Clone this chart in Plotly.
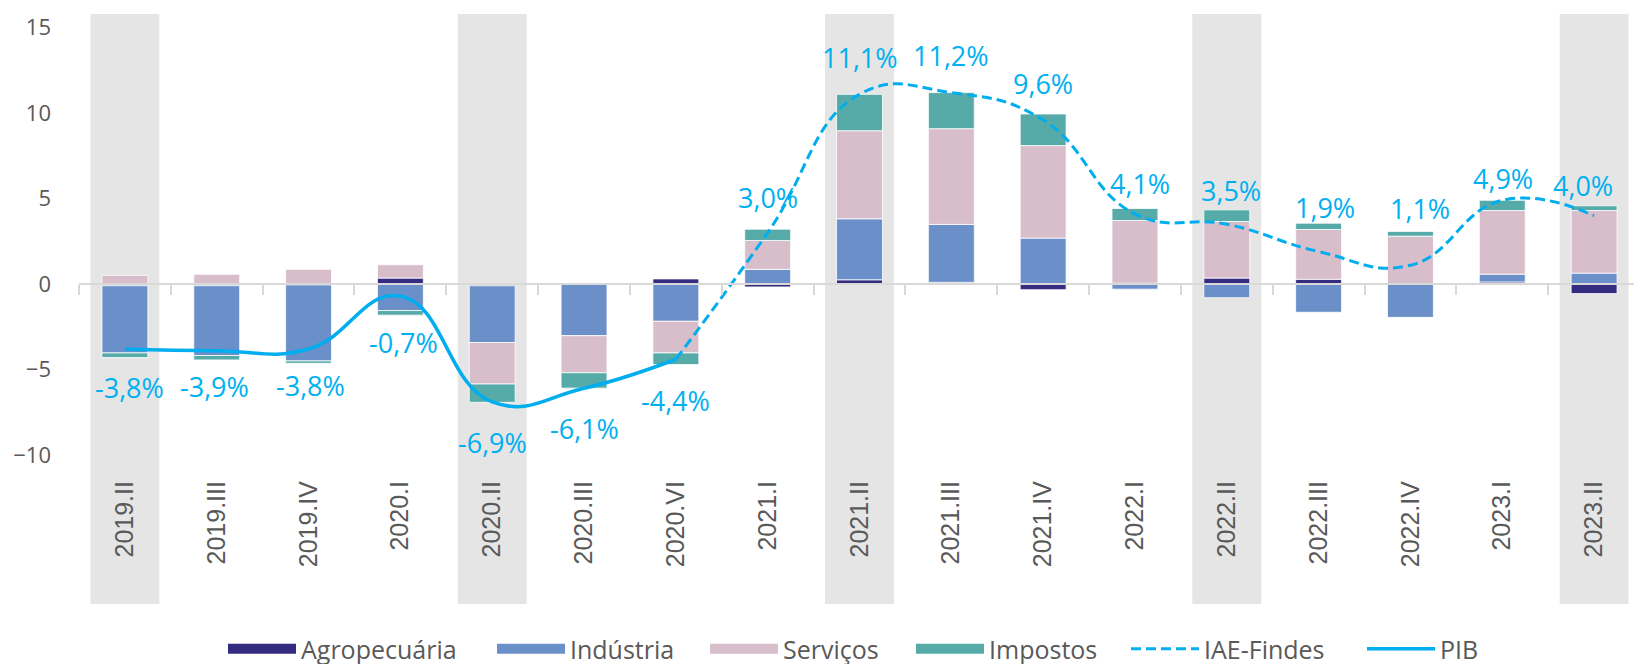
import plotly.graph_objects as go

# ---------------- data ----------------
categories = ["2019.II", "2019.III", "2019.IV", "2020.I", "2020.II", "2020.III", "2020.VI",
              "2021.I", "2021.II", "2021.III", "2021.IV", "2022.I", "2022.II", "2022.III",
              "2022.IV", "2023.I", "2023.II"]
agropecuaria = [-0.10, -0.10, -0.05, 0.35, -0.10, -0.02, 0.30, -0.17, 0.25, 0.10, -0.33,
                0.05, 0.35, 0.28, 0.00, 0.12, -0.56]
industria = [-3.93, -4.08, -4.45, -1.55, -3.32, -3.00, -2.18, 0.86, 3.57, 3.39, 2.69,
             -0.30, -0.80, -1.65, -1.95, 0.46, 0.64]
servicos = [0.51, 0.57, 0.86, 0.78, -2.43, -2.17, -1.85, 1.69, 5.15, 5.60, 5.41,
            3.67, 3.31, 2.91, 2.80, 3.72, 3.66]
impostos = [-0.27, -0.26, -0.14, -0.27, -1.07, -0.90, -0.68, 0.66, 2.13, 2.11, 1.85,
            0.70, 0.68, 0.37, 0.28, 0.60, 0.28]
pib_cats = ["2019.II", "2019.III", "2019.IV", "2020.I", "2020.II", "2020.III", "2020.VI"]
pib = [-3.8, -3.9, -3.8, -0.7, -6.9, -6.1, -4.4]
iae_cats = ["2020.VI", "2021.I", "2021.II", "2021.III", "2021.IV", "2022.I", "2022.II",
            "2022.III", "2022.IV", "2023.I", "2023.II"]
iae = [-4.4, 3.0, 11.1, 11.2, 9.6, 4.1, 3.5, 1.9, 1.1, 4.9, 4.0]
shaded_cats = ["2019.II", "2020.II", "2021.II", "2022.II", "2023.II"]
y_ticks = [-10, -5, 0, 5, 10, 15]

# ---------------- style ----------------
C_AGRO, C_IND, C_SERV, C_IMP = "#332C80", "#6A8FC9", "#D8BDCB", "#56ABA8"
C_LINE, C_LABEL = "#00AEEF", "#00B0F0"
GREY_TXT = "#595959"
AXIS_GREY = "#D9D9D9"
BAND_GREY = "#E5E5E5"
PAGE_OFF = 8                      # default body margin of the html page
W, H = 1642 - PAGE_OFF, 664 - PAGE_OFF
M_L, M_R, M_T, M_B = 78.6 - PAGE_OFF, 2, 13.6 - PAGE_OFF, H - (604.3 - PAGE_OFF)
YMIN, YMAX = -18.72, 15.8
XMIN, XMAX = -0.5, 16.5

# label pixel offsets (style only)
pib_label_dx = [5, -2, 2, 3, 0, 0, 0]
pib_label_dy = [-39, -36, -37, -46, -41, -40, -41]
iae_label_dx = [0, 0, 0, 0, 0, 5, 4, 6, 10, 1, -11]
iae_label_dy = [0, 35, 37, 37, 36, 30, 34, 44, 57, 22, 30]

# legend swatch left edges (page px) and vertical centre
legend_left = [229, 498, 711, 917, 1132, 1368]
legend_yc = 649
cat_label_top = 477

x_idx = list(range(len(categories)))
pos = {c: i for i, c in enumerate(categories)}


def fmt(v):
    return f"{v:.1f}".replace(".", ",") + "%"


fig = go.Figure()
bar_line = dict(color="rgba(255,255,255,0.8)", width=1)
bar_series = [("Agropecuária", agropecuaria, C_AGRO),
              ("Indústria", industria, C_IND),
              ("Serviços", servicos, C_SERV),
              ("Impostos", impostos, C_IMP)]
legend_ids = ["legend", "legend2", "legend3", "legend4", "legend5", "legend6"]
for k, (name, vals, col) in enumerate(bar_series):
    fig.add_trace(go.Bar(x=x_idx, y=vals, name=name, marker=dict(color=col, line=bar_line),
                         legendgroup=name, showlegend=False, hoverinfo="skip"))
    # wide swatch legend entry
    fig.add_trace(go.Scatter(x=[None], y=[None], name=name, mode="lines", legendgroup=name,
                             line=dict(color=col, width=16), legend=legend_ids[k],
                             hoverinfo="skip"))

fig.add_trace(go.Scatter(x=[pos[c] for c in iae_cats], y=iae, name="IAE-Findes", mode="lines",
                         line=dict(color=C_LINE, width=3, dash="10px,5px", shape="spline",
                                   smoothing=1.3),
                         legend="legend5", hoverinfo="skip"))
fig.add_trace(go.Scatter(x=[pos[c] for c in pib_cats], y=pib, name="PIB", mode="lines",
                         line=dict(color=C_LINE, width=3.5, shape="spline", smoothing=1.3),
                         legend="legend6", hoverinfo="skip"))
# carrier for the category-label axis
fig.add_trace(go.Scatter(x=[0], y=[None], xaxis="x2", mode="markers", showlegend=False,
                         hoverinfo="skip", marker=dict(opacity=0)))

# shaded bands
for c in shaded_cats:
    ctr = pos[c]
    fig.add_shape(type="rect", xref="x", yref="y domain", x0=ctr - 0.375, x1=ctr + 0.375,
                  y0=0, y1=1, fillcolor=BAND_GREY, line=dict(width=0), layer="below")

# data labels
ann = []
for c, v, dx, dy in zip(pib_cats, pib, pib_label_dx, pib_label_dy):
    ann.append(dict(x=pos[c], y=v, text=fmt(v), xshift=dx, yshift=dy))
for c, v, dx, dy in list(zip(iae_cats, iae, iae_label_dx, iae_label_dy))[1:]:
    ann.append(dict(x=pos[c], y=v, text=fmt(v), xshift=dx, yshift=dy))
for a in ann:
    a.update(xref="x", yref="y", showarrow=False, xanchor="center", yanchor="middle",
             font=dict(family="Open Sans", size=27, color=C_LABEL))

plot_h = H - M_T - M_B
legend_font = dict(family="Open Sans", size=25, color=GREY_TXT)
legends = {}
for lid, left in zip(legend_ids, legend_left):
    legends[lid] = dict(orientation="h", xref="container", yref="container",
                        x=(left - PAGE_OFF - 6) / W, xanchor="left",
                        y=(H - (legend_yc - PAGE_OFF)) / H, yanchor="middle",
                        font=legend_font, itemwidth=68, bgcolor="rgba(0,0,0,0)",
                        borderwidth=0)

fig.update_layout(
    width=W, height=H,
    margin=dict(l=M_L, r=M_R, t=M_T, b=M_B, pad=0, autoexpand=False),
    paper_bgcolor="white", plot_bgcolor="white",
    barmode="relative", bargap=0.5,
    annotations=ann,
    showlegend=True,
    xaxis=dict(range=[XMIN, XMAX], anchor="free", position=(0 - YMIN) / (YMAX - YMIN),
               showline=True, linecolor=AXIS_GREY, linewidth=1.5,
               ticks="outside", ticklen=10, tickwidth=1.5, tickcolor=AXIS_GREY,
               tickvals=[i - 0.5 for i in range(len(categories) + 1)], showticklabels=False,
               showgrid=False, zeroline=False, fixedrange=True, automargin=False),
    xaxis2=dict(range=[XMIN, XMAX], overlaying="x", anchor="free",
                position=(H - M_B - (cat_label_top - PAGE_OFF - 1.8)) / plot_h,
                tickvals=x_idx, ticktext=categories, tickangle=-90,
                tickfont=dict(family="Liberation Sans", size=25, color=GREY_TXT),
                showline=False, ticks="", showgrid=False, zeroline=False, fixedrange=True,
                automargin=False),
    yaxis=dict(range=[YMIN, YMAX], tickvals=y_ticks, showgrid=False, zeroline=False,
               showline=False, ticks="", ticklabelstandoff=27, automargin=False,
               tickfont=dict(family="Open Sans", size=22, color=GREY_TXT), fixedrange=True),
    **legends,
)

fig.write_html("out.html")
